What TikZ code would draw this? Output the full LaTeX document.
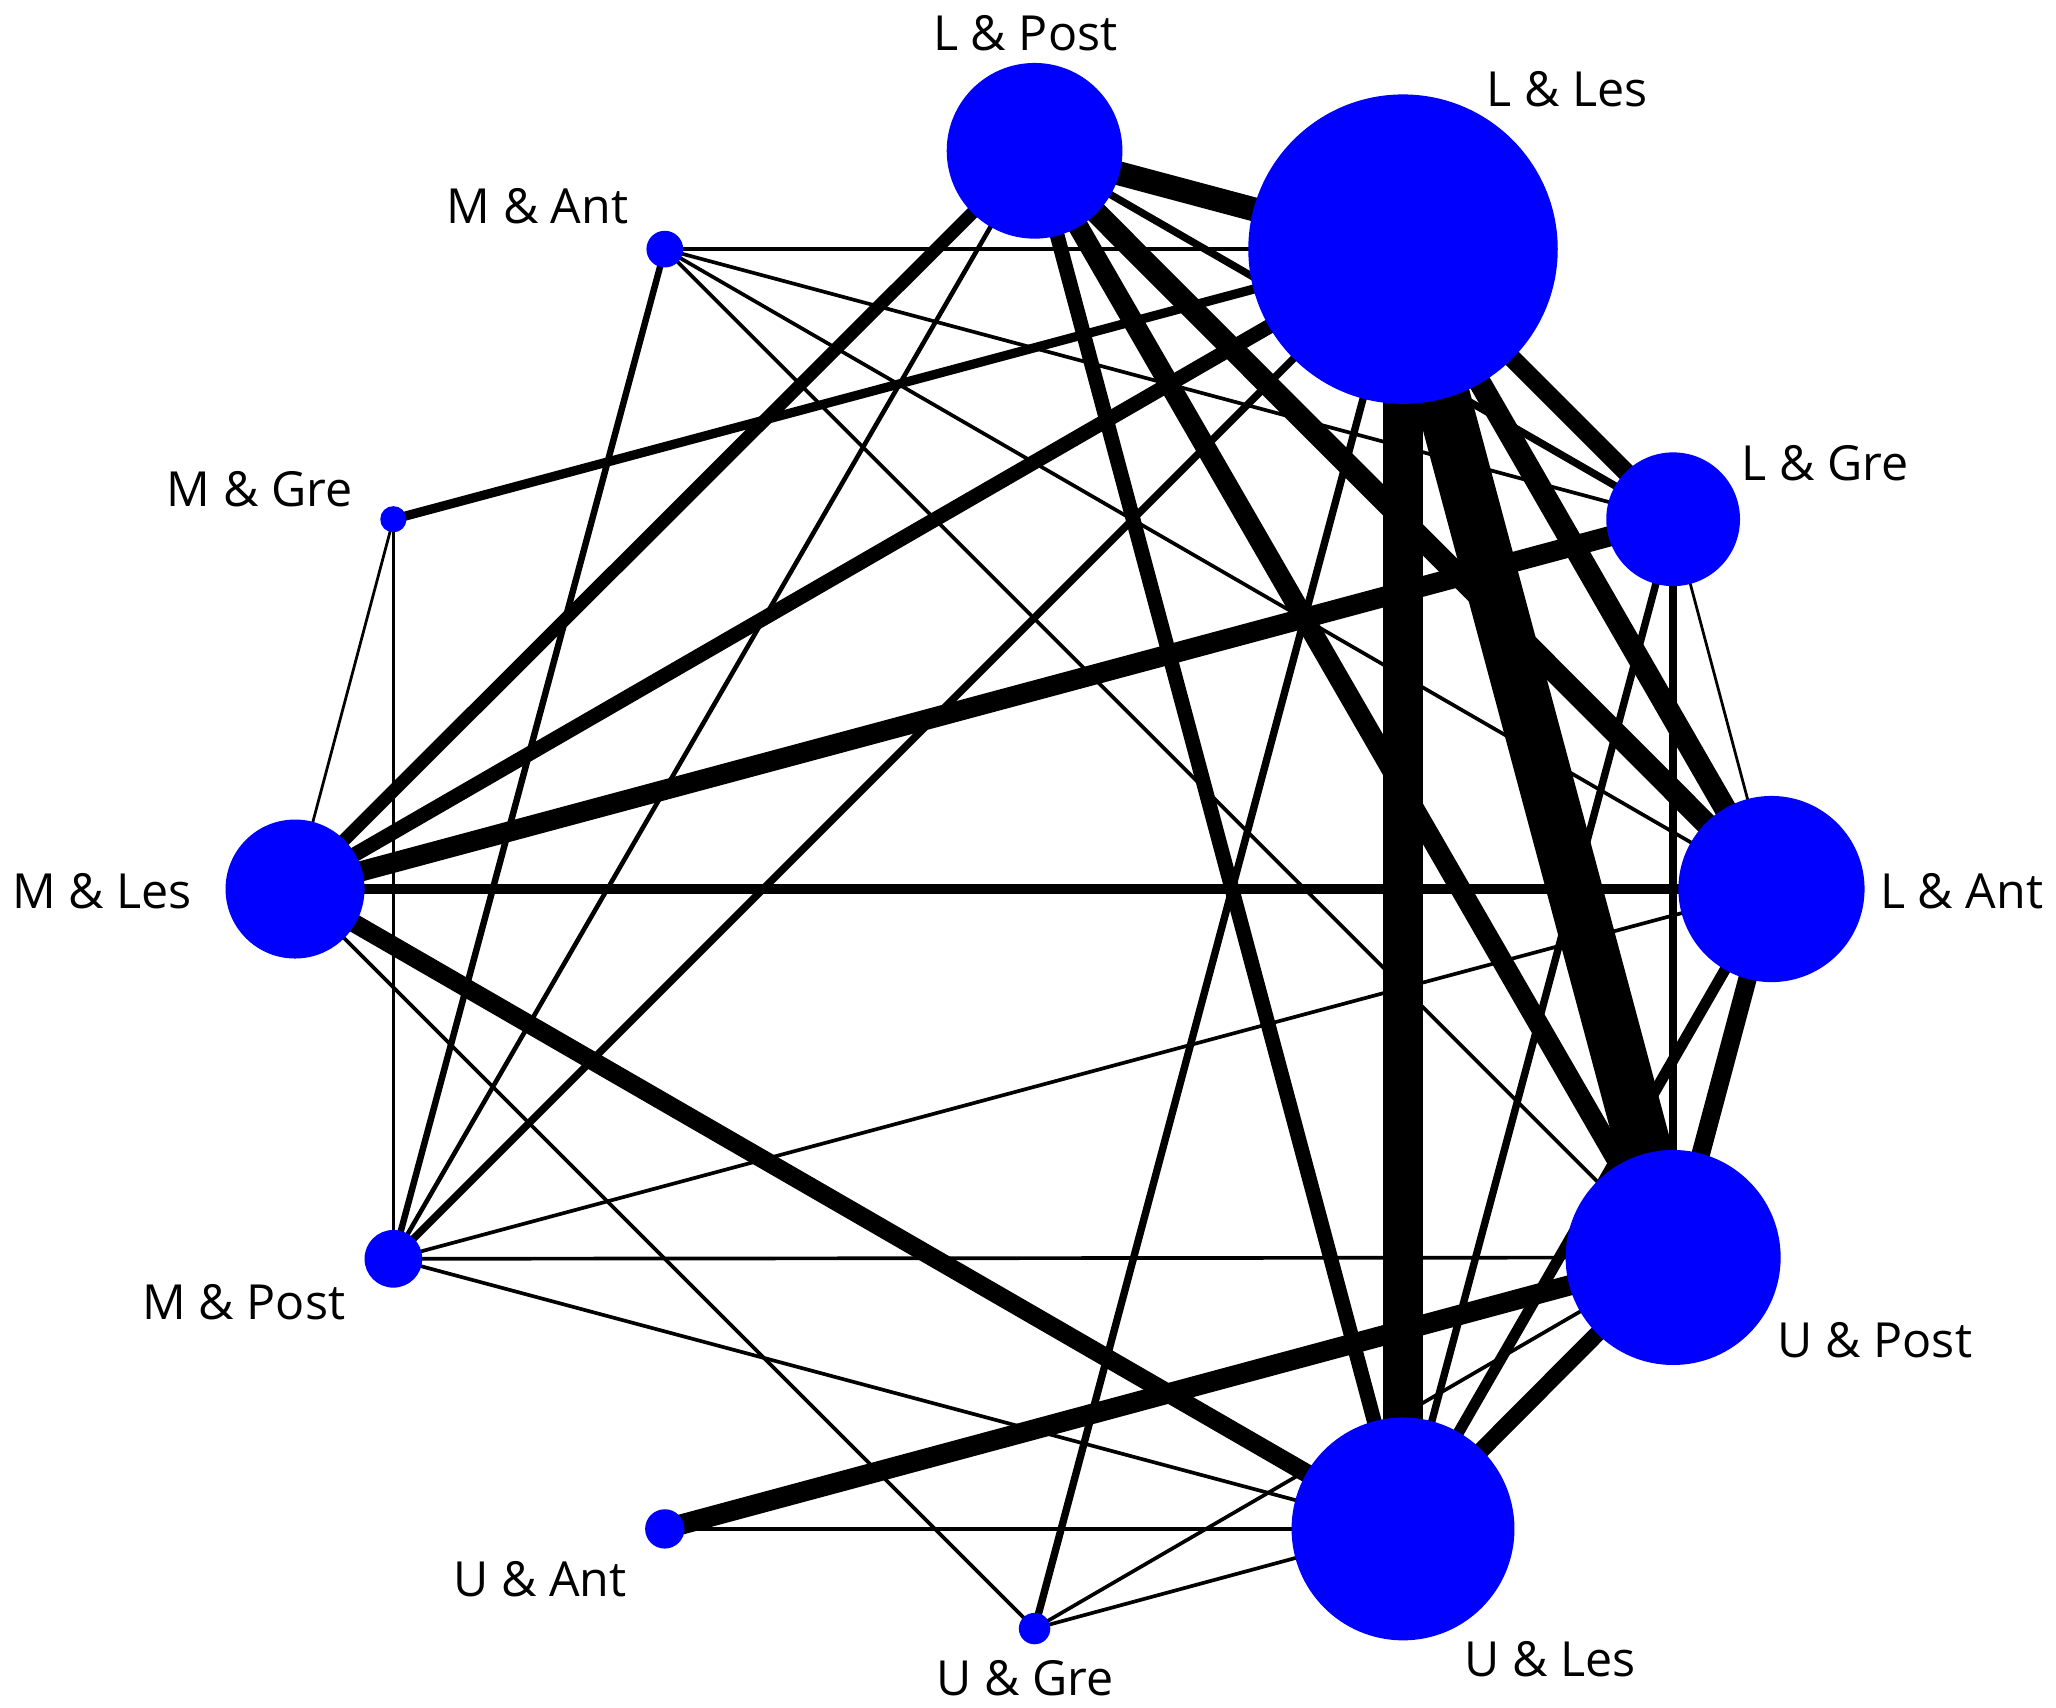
\documentclass[tikz,border=0pt]{standalone}
\usepackage{fontspec}
\setmainfont{Open Sans}
\usetikzlibrary{backgrounds}
\tikzset{
  trt/.style={circle, fill=blue, inner sep=0pt, minimum size=#1},
  lbl/.style={font=\fontsize{21}{24}\selectfont, inner sep=0pt},
  link/.style={line width=#1*0.8pt, black}
}
\begin{document}
\begin{tikzpicture}[x=0.02cm, y=-0.02cm]
    \useasboundingbox (0,0) rectangle (1568,1302);
    % treatments: name / x / y / diameter
    \foreach \n/\x/\y/\d in {LPost/789/115/134, LLes/1070/190/236, LGre/1276/396/102,
        LAnt/1351/678/142, UPost/1276/959/164, ULes/1070/1166/170, UGre/789/1242/24,
        UAnt/507/1166/30, MPost/300/960/44, MLes/225/678/106, MGre/300/396/20, MAnt/507/190/28}
        \node[trt=\d*0.02cm] (\n) at (\x,\y) {};

    \node[lbl] at (782,25) {L \& Post};
    \node[lbl] at (1195,68) {L \& Les};
    \node[lbl] at (1392,353) {L \& Gre};
    \node[lbl] at (1496,680) {L \& Ant};
    \node[lbl] at (1430,1022) {U \& Post};
    \node[lbl] at (1182,1265) {U \& Les};
    \node[lbl] at (782,1280) {U \& Gre};
    \node[lbl] at (412,1204) {U \& Ant};
    \node[lbl] at (186,993) {M \& Post};
    \node[lbl] at (78,680) {M \& Les};
    \node[lbl] at (198,373) {M \& Gre};
    \node[lbl] at (410,157) {M \& Ant};

    \begin{pgfonlayer}{background}
    % comparisons: from / to / width
    \foreach \a/\b/\w in {LPost/LLes/13, LPost/LGre/4, LPost/LAnt/12, LPost/UPost/11,
        LPost/ULes/8, LPost/MLes/7, LPost/MPost/2.5,
        LLes/ULes/22, LLes/UPost/30, LLes/LGre/10, LLes/LAnt/12, LLes/MLes/8,
        LLes/MGre/5, LLes/MAnt/2, LLes/MPost/4, LLes/UGre/4,
        LGre/MLes/11, LGre/ULes/4, LGre/UPost/4, LGre/LAnt/1.5, LGre/MAnt/2,
        LAnt/MLes/5, LAnt/UPost/10, LAnt/ULes/6, LAnt/MPost/2, LAnt/MAnt/2,
        UPost/ULes/9, UPost/MPost/2, UPost/UAnt/11, UPost/UGre/2, UPost/MAnt/2,
        ULes/UAnt/2.5, ULes/UGre/2, ULes/MLes/10, ULes/MPost/2,
        MLes/MGre/1.5, MLes/UGre/2, MPost/MGre/1.5, MPost/MAnt/3.5}
        \draw[link=\w] (\a.center) -- (\b.center);
    \end{pgfonlayer}
\end{tikzpicture}
\end{document}
